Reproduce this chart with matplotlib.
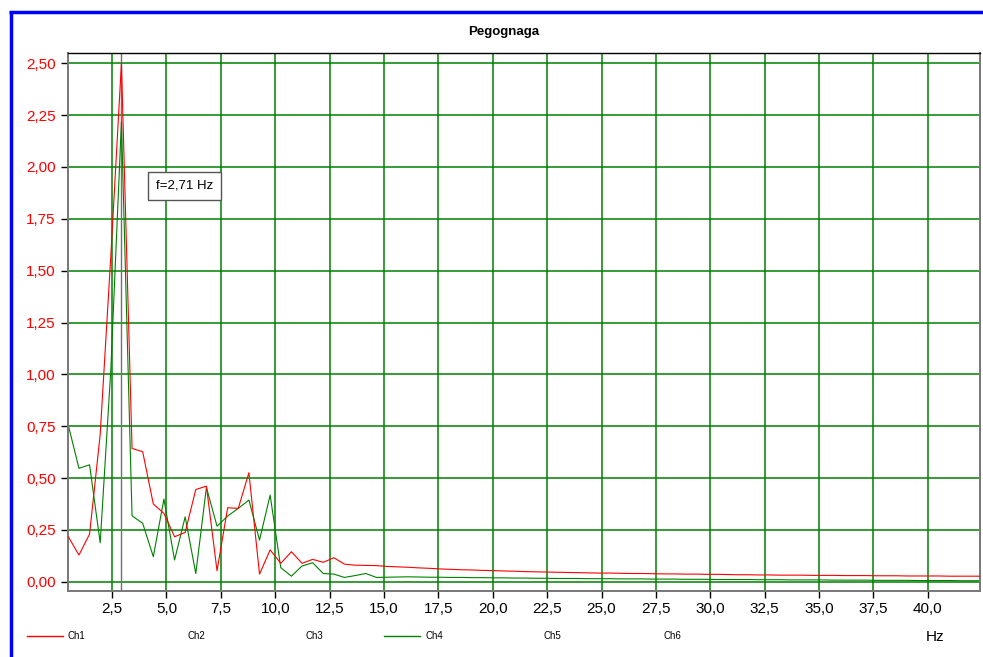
import matplotlib
matplotlib.use("Agg")
from matplotlib import pyplot as plt
from matplotlib.lines import Line2D
from matplotlib.ticker import FuncFormatter, MultipleLocator
import numpy as np

plt.rcParams['font.family'] = ['Liberation Sans', 'DejaVu Sans']

# frequency bins (Hz), one per spectral line
df = 0.4883
freq = np.arange(1, 88) * df

ch1 = [0.217, 0.129, 0.230, 0.710, 1.570, 2.500, 0.643, 0.627, 0.375, 0.330,
       0.217, 0.238, 0.445, 0.461, 0.053, 0.357, 0.354, 0.526, 0.037, 0.154,
       0.089, 0.145, 0.089, 0.108, 0.094, 0.116, 0.085, 0.080, 0.079, 0.078,
       0.074, 0.072, 0.070, 0.067, 0.065, 0.062, 0.060, 0.058, 0.057, 0.055,
       0.054, 0.052, 0.051, 0.049, 0.048, 0.047, 0.046, 0.045, 0.044, 0.043,
       0.042, 0.042, 0.041, 0.040, 0.040, 0.039, 0.038, 0.038, 0.037, 0.037,
       0.036, 0.036, 0.035, 0.034, 0.034, 0.033, 0.033, 0.032, 0.032, 0.032,
       0.031, 0.031, 0.031, 0.030, 0.030, 0.030, 0.029, 0.029, 0.029, 0.028,
       0.028, 0.028, 0.028, 0.027, 0.027, 0.027, 0.027]

ch4 = [0.755, 0.547, 0.564, 0.188, 1.020, 2.218, 0.318, 0.282, 0.121, 0.399,
       0.105, 0.313, 0.040, 0.455, 0.268, 0.317, 0.354, 0.394, 0.201, 0.418,
       0.068, 0.027, 0.076, 0.092, 0.040, 0.037, 0.021, 0.030, 0.040, 0.021,
       0.022, 0.023, 0.024, 0.023, 0.022, 0.022, 0.021, 0.021, 0.020, 0.020,
       0.019, 0.019, 0.018, 0.018, 0.017, 0.017, 0.016, 0.016, 0.016, 0.015,
       0.015, 0.015, 0.014, 0.014, 0.014, 0.013, 0.013, 0.013, 0.012, 0.012,
       0.012, 0.011, 0.011, 0.011, 0.011, 0.010, 0.010, 0.010, 0.009, 0.009,
       0.009, 0.009, 0.008, 0.008, 0.008, 0.008, 0.007, 0.007, 0.007, 0.007,
       0.006, 0.006, 0.006, 0.006, 0.005, 0.005, 0.005]

peak_freq = freq[5]
peak_label = "f=2,71 Hz"
legend_names = ["Ch1", "Ch2", "Ch3", "Ch4", "Ch5", "Ch6"]
legend_colors = ["red", None, None, "green", None, None]

fig = plt.figure(figsize=(9.83, 6.57), dpi=100)
ax = fig.add_axes([0.0695, 0.1009, 0.9275, 0.818])

green = "#008000"
ax.xaxis.set_major_locator(MultipleLocator(2.5))
ax.yaxis.set_major_locator(MultipleLocator(0.25))
ax.grid(True, color=green, lw=1.1)
ax.set_axisbelow(True)

ax.axvline(peak_freq, color="#707070", lw=1.0, zorder=1.5)
ax.plot(freq, ch1, color="red", lw=0.8, zorder=3)
ax.plot(freq, ch4, color=green, lw=0.8, zorder=2.5)

ax.set_xlim(df, 42.4)
ax.set_ylim(-0.043, 2.548)

comma = lambda fmt: FuncFormatter(lambda v, p: (fmt % v).replace(".", ","))
ax.xaxis.set_major_formatter(comma("%.1f"))
ax.yaxis.set_major_formatter(comma("%.2f"))
ax.tick_params(axis="y", colors="black", labelcolor="red", labelsize=11,
               length=5, width=1, pad=4)
ax.tick_params(axis="x", colors="black", labelsize=11, length=5, width=1, pad=3)

for s in ["left", "bottom", "right"]:
    ax.spines[s].set_color("#777777")
    ax.spines[s].set_linewidth(1.4)
ax.spines["top"].set_color("black")
ax.spines["top"].set_linewidth(1.0)

fig.text(504 / 983, 1 - 32 / 657, "Pegognaga", ha="center", va="center",
         fontsize=9.5, fontweight="bold")

ax.text(4.5, 1.91, peak_label, ha="left", va="center", fontsize=9.5,
        bbox=dict(boxstyle="square,pad=0.6", fc="white", ec="#555555", lw=1.0),
        zorder=5)

# legend row at the bottom
x0 = 27 / 983
step = 119 / 983
ly = 1 - 636 / 657
for i, (name, col) in enumerate(zip(legend_names, legend_colors)):
    xs = x0 + i * step
    if col is not None:
        fig.add_artist(Line2D([xs, xs + 36 / 983], [ly, ly], color=col, lw=1.0))
    fig.text(xs + 41 / 983, ly, name, ha="left", va="center", fontsize=7)
fig.text(935 / 983, 1 - 637 / 657, "Hz", ha="center", va="center", fontsize=11)

# blue frame
fig.add_artist(Line2D([10.5 / 983, 10.5 / 983], [0, 1 - 10.5 / 657],
                      color="blue", lw=2.5, solid_capstyle="butt"))
fig.add_artist(Line2D([9.3 / 983, 1], [1 - 11.7 / 657, 1 - 11.7 / 657],
                      color="blue", lw=2.5, solid_capstyle="butt"))

fig.savefig("out.png", dpi=100)
